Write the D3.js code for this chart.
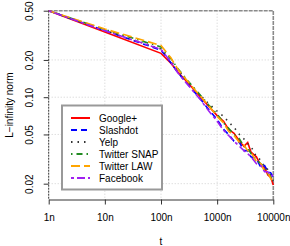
<!DOCTYPE html>
<html>
<head>
<meta charset="utf-8">
<script src="https://cdn.jsdelivr.net/npm/d3@7"></script>
<style>
  html, body { margin: 0; padding: 0; background: #fff; }
  svg { display: block; font-family: "Liberation Sans", Arial, sans-serif; }
  .tick text { font-size: 10px; fill: #000; }
</style>
</head>
<body>
<svg id="chart" width="290" height="246"></svg>
<script>
// sample times (in units of n) and L-infinity norms
const tVals = [1, 10, 100, 150, 200, 300, 500, 700, 1000, 1300, 1600, 2000, 2500, 3000, 3500, 4000, 5000, 6000, 7000, 8000, 9000, 10000];

const googlePlus  = [0.5, 0.336, 0.226, 0.188, 0.160, 0.131, 0.101, 0.085, 0.071, 0.064, 0.055, 0.051, 0.044, 0.040, 0.043, 0.036, 0.033, 0.028, 0.027, 0.0235, 0.0225, 0.0195];
const slashdot    = [0.5, 0.345, 0.240, 0.190, 0.158, 0.127, 0.097, 0.080, 0.066, 0.055, 0.050, 0.044, 0.043, 0.037, 0.037, 0.033, 0.032, 0.027, 0.028, 0.025, 0.0245, 0.0225];
const yelp        = [0.5, 0.348, 0.245, 0.196, 0.166, 0.134, 0.104, 0.089, 0.077, 0.070, 0.063, 0.057, 0.050, 0.046, 0.042, 0.040, 0.033, 0.031, 0.027, 0.026, 0.023, 0.021];
const twitterSnap = [0.5, 0.352, 0.255, 0.205, 0.170, 0.136, 0.104, 0.087, 0.073, 0.062, 0.056, 0.050, 0.046, 0.040, 0.039, 0.035, 0.031, 0.029, 0.026, 0.024, 0.023, 0.021];
const twitterLaw  = [0.5, 0.356, 0.262, 0.208, 0.168, 0.134, 0.102, 0.086, 0.070, 0.062, 0.053, 0.049, 0.043, 0.041, 0.037, 0.036, 0.030, 0.029, 0.025, 0.0245, 0.022, 0.0205];
const facebook    = [0.5, 0.344, 0.244, 0.192, 0.157, 0.126, 0.096, 0.078, 0.064, 0.054, 0.049, 0.044, 0.040, 0.037, 0.035, 0.033, 0.029, 0.028, 0.025, 0.025, 0.023, 0.0235];

const seriesNames = ["Google+", "Slashdot", "Yelp", "Twitter SNAP", "Twitter LAW", "Facebook"];
const seriesValues = [googlePlus, slashdot, yelp, twitterSnap, twitterLaw, facebook];
const seriesColors = ["#ff0000", "#0000ff", "#333333", "#228b22", "#ffa500", "#a020f0"];
const seriesDashes = [null, "6,4", "1.5,5", "1.5,4,6,4", "9,4", "3,3,8,3"];

const xTicks = [1, 10, 100, 1000, 10000];
const xTickLabels = ["1n", "10n", "100n", "1000n", "10000n"];
const yTicks = [0.02, 0.05, 0.10, 0.20, 0.50];
const yTickLabels = ["0.02", "0.05", "0.10", "0.20", "0.50"];

const svg = d3.select("#chart");
const plotL = 48.7, plotR = 273.3, plotT = 10.7, plotB = 199.5;

const x = d3.scaleLog().domain([1, 10000]).range([plotL, plotR]);
const y = d3.scaleLog().domain([0.0149, 0.5]).range([plotB, plotT]);

// grid
const grid = svg.append("g").attr("stroke", "#cfcfcf").attr("stroke-dasharray", "1,2");
grid.selectAll("line.gx").data(xTicks.slice(1, -1)).join("line")
    .attr("x1", d => x(d)).attr("x2", d => x(d)).attr("y1", plotT).attr("y2", plotB);
grid.selectAll("line.gy").data(yTicks.slice(0, -1)).join("line")
    .attr("y1", d => y(d)).attr("y2", d => y(d)).attr("x1", plotL).attr("x2", plotR);

// frame: top and right gray dashed, left dark dashed
svg.append("path")
    .attr("d", `M${plotL},${plotT}H${plotR}V${plotB}`)
    .attr("fill", "none").attr("stroke", "#8a8a8a").attr("stroke-width", 1.6)
    .attr("stroke-dasharray", "4,1");
svg.append("line")
    .attr("x1", plotL).attr("x2", plotL).attr("y1", plotT).attr("y2", plotB)
    .attr("stroke", "#333").attr("stroke-dasharray", "2,1");

// series
const line = d3.line()
    .x((d, i) => x(tVals[i]))
    .y(d => y(d));

svg.append("g").selectAll("path")
    .data(seriesValues)
    .join("path")
    .attr("d", line)
    .attr("fill", "none")
    .attr("stroke", (d, i) => seriesColors[i])
    .attr("stroke-width", 1.6)
    .attr("stroke-dasharray", (d, i) => seriesDashes[i]);

// x axis
const xAxis = svg.append("g")
    .attr("transform", `translate(0,${plotB})`)
    .call(d3.axisBottom(x).tickValues(xTicks).tickFormat((d, i) => xTickLabels[i])
        .tickSize(5).tickSizeOuter(0).tickPadding(9));
xAxis.select(".domain").attr("stroke", "#333");
xAxis.selectAll(".tick line").attr("stroke", "#333");

// y axis
const yAxis = svg.append("g")
    .attr("transform", `translate(${plotL},0)`)
    .call(d3.axisLeft(y).tickValues(yTicks).tickFormat((d, i) => yTickLabels[i]).tickSize(5));
yAxis.select(".domain").remove();
yAxis.selectAll(".tick line").attr("stroke", "#333");
yAxis.selectAll(".tick text")
    .attr("text-anchor", "middle")
    .attr("x", 0).attr("dy", 0)
    .attr("transform", "translate(-15.5,0) rotate(-90)");

// axis titles
svg.append("text")
    .attr("transform", `translate(13,${(plotT + plotB) / 2}) rotate(-90)`)
    .attr("text-anchor", "middle").attr("font-size", 10)
    .text("L\u2212infinity norm");
svg.append("text")
    .attr("x", x(100)).attr("y", 245)
    .attr("text-anchor", "middle").attr("font-size", 10)
    .text("t");

// legend
const legend = svg.append("g");
legend.append("rect")
    .attr("x", 62).attr("y", 105.5).attr("width", 100).attr("height", 84)
    .attr("fill", "#fff").attr("stroke", "#999").attr("stroke-width", 2);
const items = legend.selectAll("g.item")
    .data(seriesNames)
    .join("g")
    .attr("class", "item")
    .attr("transform", (d, i) => `translate(0,${118 + i * 12})`);
items.append("line")
    .attr("x1", 71).attr("x2", 90)
    .attr("stroke", (d, i) => seriesColors[i])
    .attr("stroke-width", 2)
    .attr("stroke-dasharray", (d, i) => seriesDashes[i]);
items.append("text")
    .attr("x", 99).attr("y", 3.6)
    .attr("font-size", 10)
    .text(d => d);
</script>
</body>
</html>
